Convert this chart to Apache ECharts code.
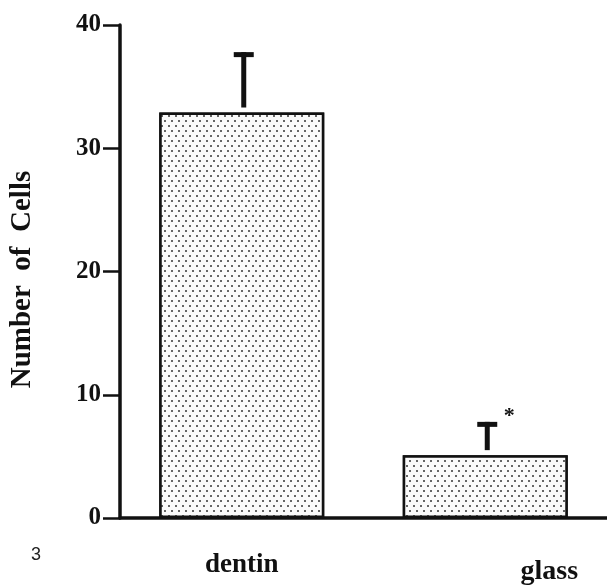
<!DOCTYPE html>
<html>
<head>
<meta charset="utf-8">
<script src="https://cdn.jsdelivr.net/npm/echarts@6/dist/echarts.min.js"></script>
<style>
html,body{margin:0;padding:0;background:#fff;}
#c{width:607px;height:586px;}
</style>
</head>
<body>
<div id="c"></div>
<script>
const categories = ['dentin', 'glass'];
const cellCounts = [32.9, 5.1];
const errorUpper = [37.8, 7.8];
const significance = ['', '*'];
const yTicks = [0, 10, 20, 30, 40];
const yTitle = 'Number  of  Cells';
const figureLabel = '3';

const serif = '"Liberation Serif", "Times New Roman", Times, serif';
const chart = echarts.init(document.getElementById('c'), null, {renderer: 'canvas'});

const errData = categories.map((c, i) => [i, cellCounts[i], errorUpper[i], significance[i]]);

chart.setOption({
  animation: false,
  backgroundColor: '#ffffff',
  grid: {left: 118, right: 0, top: 25, bottom: 65},
  xAxis: {
    type: 'category',
    data: categories,
    axisLine: {lineStyle: {color: '#111', width: 3.5}},
    axisTick: {show: false},
    axisLabel: {
      margin: 34,
      fontFamily: serif,
      fontWeight: 'bold',
      fontSize: 27,
      color: '#111',
      formatter: (v, i) => i === 1 ? '{g|' + v + '}' : '{d|' + v + '}',
      rich: {
        d: {fontFamily: serif, fontWeight: 'bold', fontSize: 27, color: '#111'},
        g: {fontFamily: serif, fontWeight: 'bold', fontSize: 28, color: '#111', padding: [6, 0, 0, 128]}
      }
    }
  },
  yAxis: {
    type: 'value',
    min: yTicks[0],
    max: yTicks[yTicks.length - 1],
    interval: yTicks[1] - yTicks[0],
    splitLine: {show: false},
    axisLine: {show: true, lineStyle: {color: '#111', width: 3.5}},
    axisTick: {show: true, length: 17, lineStyle: {color: '#111', width: 2.5}},
    axisLabel: {margin: 19, fontFamily: serif, fontWeight: 'bold', fontSize: 25, color: '#111'},
    name: yTitle,
    nameLocation: 'middle',
    nameRotate: 90,
    nameGap: 83,
    nameTextStyle: {fontFamily: serif, fontWeight: 'bold', fontSize: 29, color: '#111', padding: [0, 16, 0, 0]}
  },
  graphic: [{
    type: 'text',
    left: 31,
    top: 546,
    style: {text: figureLabel, font: '18px "Liberation Sans", Arial, sans-serif', fill: '#222'}
  }],
  series: [
    {
      type: 'bar',
      data: cellCounts,
      barWidth: 165,
      itemStyle: {
        color: '#fafafa',
        borderColor: '#111',
        borderWidth: 2.5,
        decal: {
          symbol: 'circle',
          symbolSize: 1,
          color: '#333',
          backgroundColor: '#fafafa',
          dashArrayX: [[2, 5], [0, 3, 2, 2]],
          dashArrayY: [2, 3]
        }
      }
    },
    {
      type: 'custom',
      data: errData,
      z: 5,
      renderItem: function (params, api) {
        const idx = api.value(0);
        const base = api.coord([idx, api.value(1)]);
        const top = api.coord([idx, api.value(2)]);
        const x = base[0] + 2;
        const stemW = 5, capW = 20, capH = 5, gap = 5;
        const children = [
          {type: 'rect', shape: {x: x - stemW / 2, y: top[1], width: stemW, height: base[1] - gap - top[1]}, style: {fill: '#111'}},
          {type: 'rect', shape: {x: x - capW / 2, y: top[1], width: capW, height: capH}, style: {fill: '#111'}}
        ];
        const mark = errData[params.dataIndex][3];
        if (mark) {
          children.push({type: 'text', x: x + 22, y: top[1] - 6, style: {text: mark, font: 'bold 22px ' + serif, fill: '#111', align: 'center', verticalAlign: 'middle'}});
        }
        return {type: 'group', children: children};
      }
    }
  ]
});
</script>
</body>
</html>
